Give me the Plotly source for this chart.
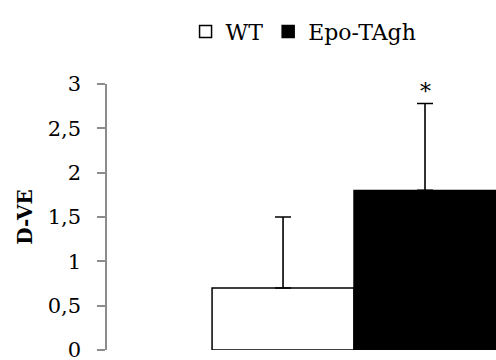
import plotly.graph_objects as go

groups = ["WT", "Epo-TAgh"]
values = [0.7, 1.8]
errors_up = [0.8, 0.98]
fills = ["white", "black"]
y_ticks = [0, 0.5, 1, 1.5, 2, 2.5, 3]
y_ticklabels = ["0", "0,5", "1", "1,5", "2", "2,5", "3"]
significance = ["", "*"]

FONT = "DejaVu Serif"

fig = go.Figure()
for i, g in enumerate(groups):
    fig.add_trace(go.Bar(
        x=[i], y=[values[i]], name=g, width=1,
        marker=dict(color=fills[i], line=dict(color="black", width=1.5)),
        error_y=dict(type="data", symmetric=False, array=[errors_up[i]], arrayminus=[0],
                     color="black", thickness=1.6, width=8),
    ))
    if significance[i]:
        fig.add_annotation(x=i, y=values[i] + errors_up[i], text=significance[i],
                           showarrow=False, yanchor="bottom", yshift=-2,
                           font=dict(family=FONT, size=22, color="black"))

fig.update_layout(
    width=496, height=360,
    margin=dict(l=107, r=0, t=84, b=10, autoexpand=False),
    paper_bgcolor="white", plot_bgcolor="white",
    separators=",.",
    showlegend=True,
    legend=dict(orientation="h", x=0.612, xref="container", y=0.97, yref="container",
                xanchor="center", yanchor="top",
                font=dict(family=FONT, size=22, color="black"),
                itemwidth=30, traceorder="normal"),
    xaxis=dict(range=[-1.24, 1.5], showticklabels=False, showgrid=False,
               zeroline=False, showline=False, ticks=""),
    yaxis=dict(range=[0, 3], tickvals=y_ticks, ticktext=y_ticklabels,
               showgrid=False, zeroline=False, showline=True, linecolor="#8c8c8c",
               linewidth=1.5, ticks="outside", tickcolor="#8c8c8c", ticklen=8, tickwidth=1.5,
               ticklabelstandoff=12, ticklabeloverflow="allow",
               tickfont=dict(family=FONT, size=21, color="black"),
               title=dict(text="<b>D-VE</b>", font=dict(family=FONT, size=20, color="black"),
                          standoff=10)),
    font=dict(family=FONT),
)

fig.write_html("out.html", post_script="document.body.style.margin='0';",
               config={"displayModeBar": False})
